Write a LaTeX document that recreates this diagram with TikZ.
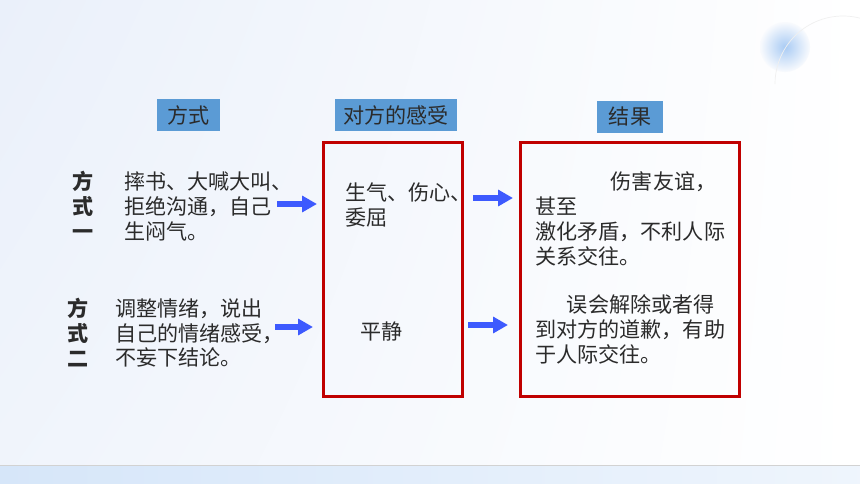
\documentclass[tikz,border=0pt]{standalone}
\usepackage{fontspec}
\setmainfont{Noto Sans CJK SC}
\usetikzlibrary{arrows.meta}
\usetikzlibrary{shadings}
\definecolor{bgblue}{HTML}{EAF0FA}
\definecolor{barblue}{HTML}{D6E6F9}
\definecolor{headblue}{HTML}{5B9BD5}
\definecolor{boxred}{HTML}{C00000}
\definecolor{arrblue}{HTML}{3D5AFE}
\definecolor{txtgray}{HTML}{2B2B2B}
\definecolor{blobblue}{HTML}{A9CBF4}
\newcommand\txtsize{\fontsize{12}{14.2}\selectfont}
\tikzset{
  headbox/.style={fill=headblue, text=txtgray, font=\txtsize, minimum height=0.64cm, inner sep=0pt},
  redbox/.style={draw=boxred, line width=1.7pt, minimum height=5.1cm},
  txt/.style={text=txtgray, font=\txtsize, align=left, anchor=north west, inner sep=0pt},
  way/.style={text=txtgray, font=\txtsize\bfseries, align=center, anchor=north, inner sep=0pt},
  arr/.style={arrblue, line width=3.4pt, line cap=butt, -{Triangle[length=8.5pt, width=9pt]}}
}

\begin{document}
\begin{tikzpicture}[x=0.02cm, y=-0.02cm]
    \useasboundingbox (0,0) rectangle (860,484);
    \shade[upper left=bgblue, upper right=white, lower left=bgblue!70!white, lower right=white] (0,0) rectangle (860,484);
    \shade[inner color=blobblue, outer color=bgblue!30!white] (785,47) circle (25);
    \draw[gray!12] (775,84) arc[start angle=180, end angle=285, radius=68];
    \shade[left color=barblue, right color=barblue!40!white] (0,465) rectangle (860,484);
    \draw[gray!35] (0,465) -- (860,465);

    \coordinate (a1) at (277,204);
    \coordinate (b1) at (317,204);
    \coordinate (a2) at (275,327);
    \coordinate (b2) at (313,327);
    \coordinate (a3) at (473,198);
    \coordinate (b3) at (513,198);
    \coordinate (a4) at (468,325);
    \coordinate (b4) at (508,325);

    \node[headbox, minimum width=1.26cm] (hway) at (188.5,115) {方式};
    \node[headbox, minimum width=2.44cm] (hfeel) at (396,115) {对方的感受};
    \node[headbox, minimum width=1.32cm] (hres) at (630,116.5) {结果};

    \node[redbox, minimum width=2.8cm] (feel) at (393,269.5) {};
    \node[redbox, minimum width=4.4cm] (res) at (630,269.5) {};

    \node[way] (w1) at (83,171) {方\\式\\一};
    \node[way] (w2) at (78,298) {方\\式\\二};
    \node[txt] (t1) at (124,171) {摔书、大喊大叫、\\拒绝沟通，自己\\生闷气。};
    \node[txt] (t2) at (115,298) {调整情绪，说出\\自己的情绪感受，\\不妄下结论。};
    \node[txt] (f1) at (345,182) {生气、伤心、\\委屈};
    \node[txt] (f2) at (360,321) {平静};
    \node[txt] (r1) at (535,171) {\hspace*{43pt}伤害友谊，\\甚至\\激化矛盾，不利人际\\关系交往。};
    \node[txt] (r2) at (535,294) {\hspace*{18pt}误会解除或者得\\到对方的道歉，有助\\于人际交往。};

    \draw[arr] (a1) -- (b1);
    \draw[arr] (a2) -- (b2);
    \draw[arr] (a3) -- (b3);
    \draw[arr] (a4) -- (b4);
\end{tikzpicture}
\end{document}
